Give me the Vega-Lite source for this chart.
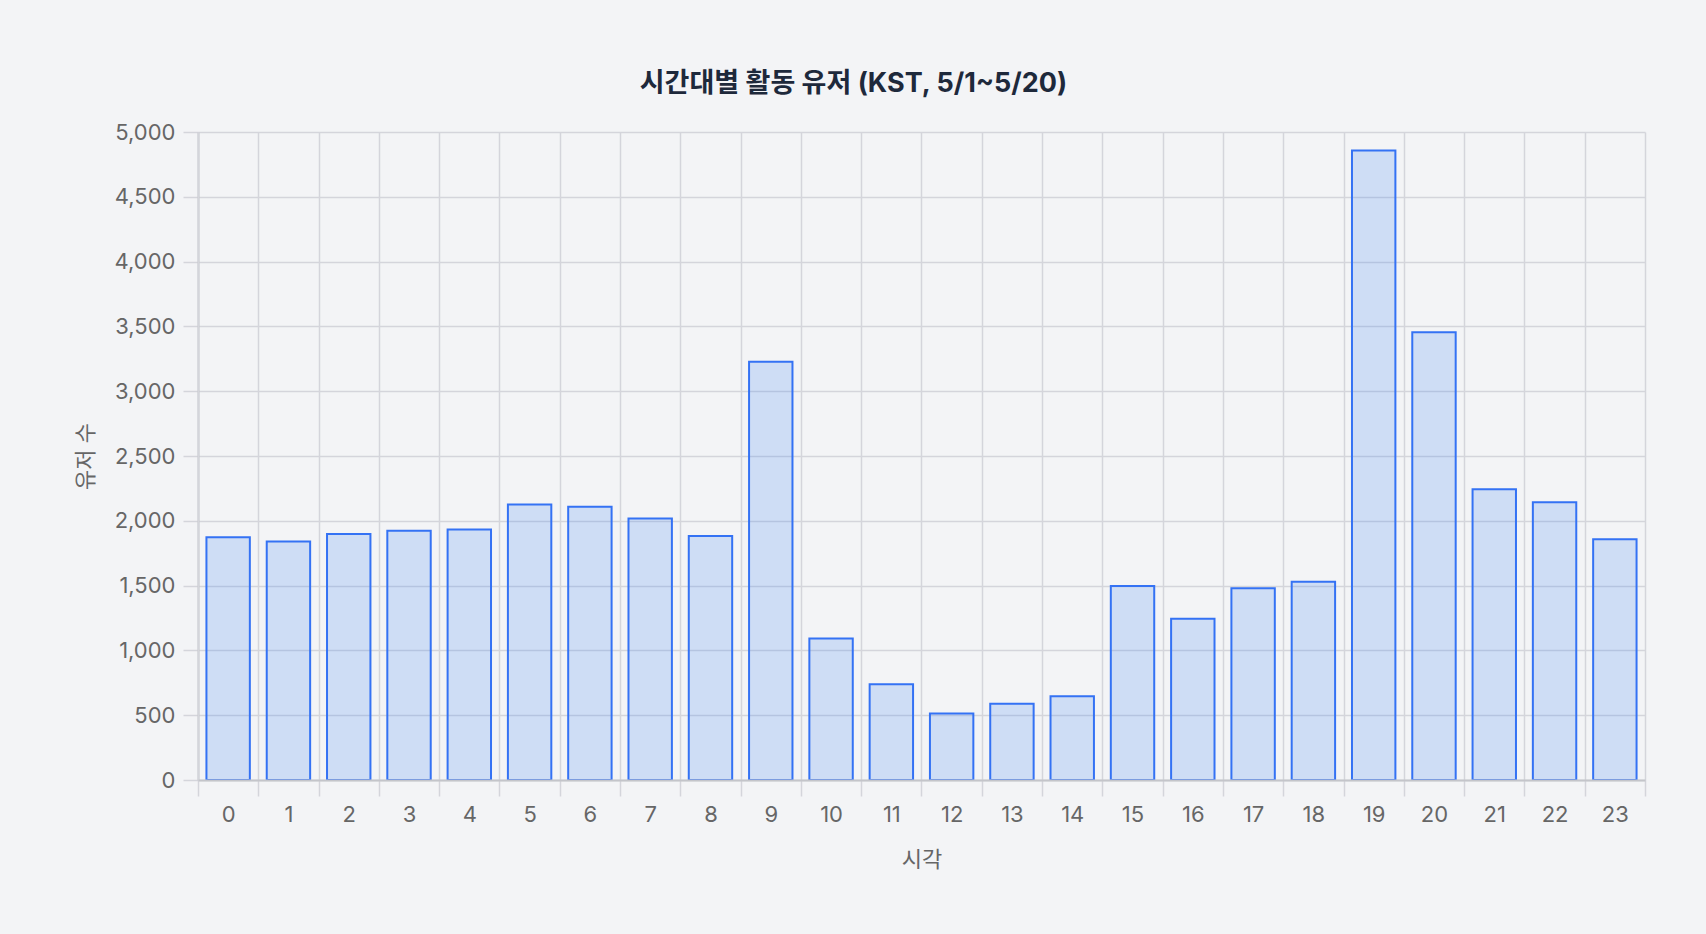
{
  "$schema": "https://vega.github.io/schema/vega-lite/v6.json",
  "autosize": {"type": "none"},
  "width": 1447,
  "height": 648,
  "padding": {"left": 198, "top": 132, "right": 61, "bottom": 154},
  "background": "#f3f4f6",
  "title": {
    "text": "시간대별 활동 유저 (KST, 5/1~5/20)",
    "font": "Inter, 'Noto Sans CJK KR', sans-serif",
    "fontSize": 27,
    "fontWeight": "bold",
    "color": "#1e293b",
    "anchor": "middle",
    "dx": -68,
    "offset": 23
  },
  "data": {
    "values": [
      {"hour": "0", "users": 1874},
      {"hour": "1", "users": 1840},
      {"hour": "2", "users": 1899},
      {"hour": "3", "users": 1924},
      {"hour": "4", "users": 1933},
      {"hour": "5", "users": 2126},
      {"hour": "6", "users": 2109},
      {"hour": "7", "users": 2017},
      {"hour": "8", "users": 1882},
      {"hour": "9", "users": 3227},
      {"hour": "10", "users": 1092},
      {"hour": "11", "users": 739},
      {"hour": "12", "users": 513},
      {"hour": "13", "users": 588},
      {"hour": "14", "users": 647},
      {"hour": "15", "users": 1496},
      {"hour": "16", "users": 1244},
      {"hour": "17", "users": 1479},
      {"hour": "18", "users": 1529},
      {"hour": "19", "users": 4857},
      {"hour": "20", "users": 3454},
      {"hour": "21", "users": 2244},
      {"hour": "22", "users": 2143},
      {"hour": "23", "users": 1857}
    ]
  },
  "mark": {
    "type": "bar",
    "width": {"band": 0.72},
    "fill": "#3b82f6",
    "fillOpacity": 0.2,
    "stroke": "#3472f4",
    "strokeWidth": 2
  },
  "encoding": {
    "x": {
      "field": "hour",
      "type": "ordinal",
      "sort": null,
      "title": "시각",
      "scale": {"paddingInner": 0, "paddingOuter": 0},
      "axis": {
        "labelAngle": 0,
        "grid": true,
        "tickBand": "extent",
        "tickSize": 16,
        "labelPadding": 8,
        "titlePadding": 24,
        "zindex": 1
      }
    },
    "y": {
      "field": "users",
      "type": "quantitative",
      "title": "유저 수",
      "scale": {"domain": [0, 5000], "nice": false},
      "axis": {
        "values": [0, 500, 1000, 1500, 2000, 2500, 3000, 3500, 4000, 4500, 5000],
        "format": ",.0f",
        "tickSize": 15,
        "labelPadding": 8,
        "titlePadding": 17
      }
    }
  },
  "config": {
    "view": {"stroke": null},
    "axis": {
      "labelFont": "Inter, 'Noto Sans CJK KR', sans-serif",
      "titleFont": "Inter, 'Noto Sans CJK KR', sans-serif",
      "labelFontSize": 22,
      "titleFontSize": 22,
      "titleFontWeight": "normal",
      "labelColor": "#666666",
      "titleColor": "#666666",
      "gridColor": "#d4d5db",
      "gridWidth": 1.5,
      "gridOpacity": 1,
      "tickColor": "#d4d5db",
      "tickWidth": 1.5,
      "domainColor": "#c4c5ca",
      "domainWidth": 2
    }
  }
}
